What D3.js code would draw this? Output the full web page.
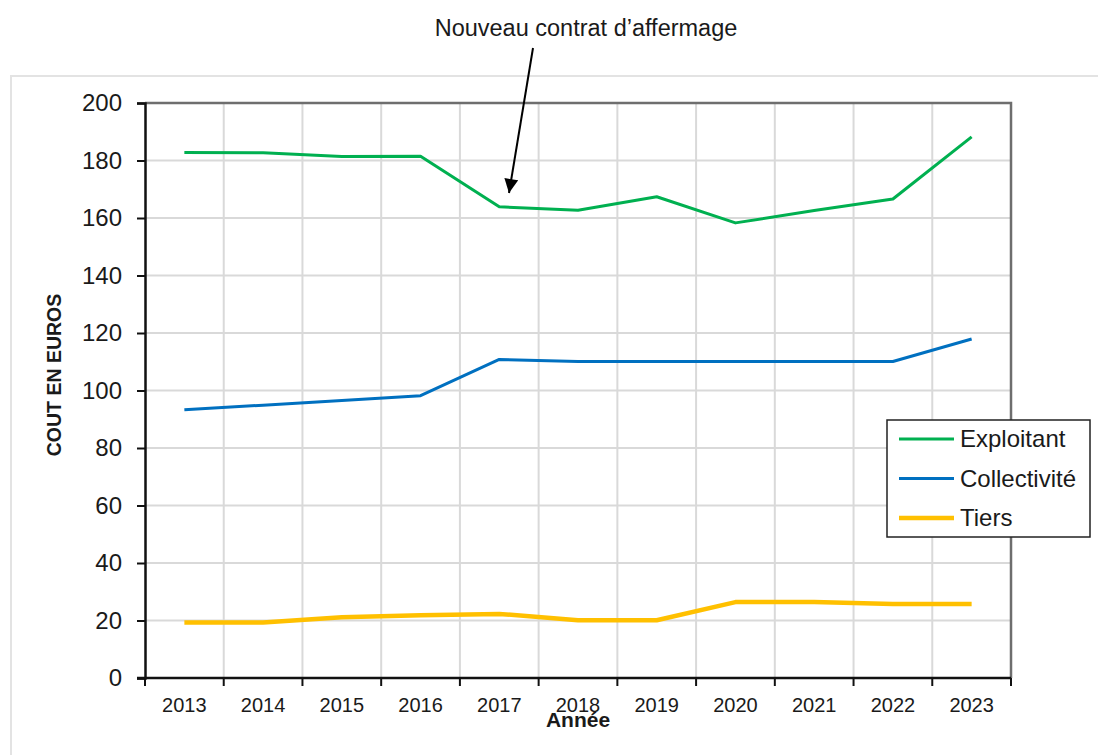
<!DOCTYPE html>
<html>
<head>
<meta charset="utf-8">
<script src="https://cdn.jsdelivr.net/npm/d3@7"></script>
<style>
  body { margin: 0; background: #fff; }
  text { font-family: "Liberation Sans", Arial, sans-serif; fill: #1a1a1a; }
</style>
</head>
<body>
<div id="chart"></div>
<script>
var years = ["2013","2014","2015","2016","2017","2018","2019","2020","2021","2022","2023"];
var exploitant = [182.8, 182.7, 181.4, 181.5, 163.9, 162.7, 167.4, 158.3, 162.6, 166.6, 188.2];
var collectivite = [93.3, 94.9, 96.5, 98.2, 110.8, 110.1, 110.1, 110.1, 110.1, 110.1, 117.9];
var tiers = [19.3, 19.3, 21.1, 21.8, 22.3, 20.1, 20.1, 26.4, 26.4, 25.7, 25.7];
var yTicks = [0, 20, 40, 60, 80, 100, 120, 140, 160, 180, 200];
var seriesNames = ["Exploitant", "Collectivité", "Tiers"];
var seriesColors = ["#00b050", "#0070c0", "#ffc000"];

var svg = d3.select("#chart")
  .append("svg")
  .attr("width", 1098)
  .attr("height", 755);

// outer frame
svg.append("rect")
  .attr("x", 11).attr("y", 76)
  .attr("width", 1100).attr("height", 720)
  .attr("fill", "none")
  .attr("stroke", "#e3e3e3")
  .attr("stroke-width", 2);

var pArea = [145, 103, 1011, 678];

var x = d3.scaleBand()
  .domain(years)
  .range([pArea[0], pArea[2]]);
var y = d3.scaleLinear()
  .domain([0, 200])
  .range([pArea[3], pArea[1]]);

var g = svg.append("g");

// grid
g.append("g")
  .selectAll("line.h")
  .data(yTicks.filter(function(d){ return d > 0 && d < 200; }))
  .enter().append("line")
  .attr("x1", pArea[0]).attr("x2", pArea[2])
  .attr("y1", function(d){ return y(d); })
  .attr("y2", function(d){ return y(d); })
  .attr("stroke", "#d9d9d9").attr("stroke-width", 2);

g.append("g")
  .selectAll("line.v")
  .data(years.slice(1))
  .enter().append("line")
  .attr("x1", function(d){ return x(d); })
  .attr("x2", function(d){ return x(d); })
  .attr("y1", pArea[1]).attr("y2", pArea[3])
  .attr("stroke", "#d9d9d9").attr("stroke-width", 2);

// top and right frame of plot
g.append("path")
  .attr("d", `M${pArea[0]},${pArea[1]}H${pArea[2]}V${pArea[3]}`)
  .attr("fill", "none")
  .attr("stroke", "#6e6e6e")
  .attr("stroke-width", 2.5);

// y axis
var yAxis = g.append("g")
  .attr("class", "axis axis--y")
  .attr("transform", `translate(${pArea[0]},0)`)
  .call(d3.axisLeft(y).tickValues(yTicks).tickSize(8).tickPadding(15));
yAxis.select(".domain").attr("stroke", "#111").attr("stroke-width", 2.5);
yAxis.selectAll(".tick line").attr("stroke", "#111").attr("stroke-width", 2);
yAxis.selectAll(".tick text")
  .attr("font-size", 24)
  .attr("font-family", "Liberation Sans, Arial, sans-serif")
  .attr("fill", "#1a1a1a");

// x axis: ticks at category boundaries
var xAxis = g.append("g")
  .attr("class", "axis axis--x")
  .attr("transform", `translate(0,${pArea[3]})`);
xAxis.append("line")
  .attr("x1", pArea[0] - 8).attr("x2", pArea[2])
  .attr("stroke", "#111").attr("stroke-width", 2.5);
xAxis.selectAll("line.tk")
  .data(years.concat(["end"]))
  .enter().append("line")
  .attr("x1", function(d, i){ return i < years.length ? x(d) : pArea[2]; })
  .attr("x2", function(d, i){ return i < years.length ? x(d) : pArea[2]; })
  .attr("y1", 0).attr("y2", 8)
  .attr("stroke", "#111").attr("stroke-width", 2);
xAxis.selectAll("text.lbl")
  .data(years)
  .enter().append("text")
  .attr("x", function(d){ return x(d) + x.bandwidth() / 2; })
  .attr("y", 34)
  .attr("text-anchor", "middle")
  .attr("font-size", 20)
  .text(function(d){ return d; });

// axis titles
svg.append("text")
  .attr("x", 578).attr("y", 727)
  .attr("text-anchor", "middle")
  .attr("font-size", 21)
  .attr("font-weight", "bold")
  .text("Année");

svg.append("text")
  .attr("transform", "translate(61,375) rotate(-90)")
  .attr("text-anchor", "middle")
  .attr("font-size", 19.5)
  .attr("font-weight", "bold")
  .text("COUT EN EUROS");

// lines
var line = d3.line()
  .x(function(d, i){ return x(years[i]) + x.bandwidth() / 2; })
  .y(function(d){ return y(d); });

[exploitant, collectivite, tiers].forEach(function(s, i){
  g.append("path")
    .datum(s)
    .attr("d", line)
    .attr("fill", "none")
    .attr("stroke", seriesColors[i])
    .attr("stroke-width", i === 2 ? 4.5 : 3)
    .attr("stroke-linejoin", "round");
});

// annotation
svg.append("defs").append("marker")
  .attr("id", "arr")
  .attr("viewBox", "0 0 10 10")
  .attr("refX", 10).attr("refY", 5)
  .attr("markerWidth", 17).attr("markerHeight", 14)
  .attr("markerUnits", "userSpaceOnUse")
  .attr("orient", "auto")
  .append("path")
  .attr("d", "M0,0L10,5L0,10Z")
  .attr("fill", "#000");

svg.append("text")
  .attr("x", 586).attr("y", 36)
  .attr("text-anchor", "middle")
  .attr("font-size", 23.5)
  .attr("fill", "#000")
  .text("Nouveau contrat d’affermage");

svg.append("line")
  .attr("x1", 533).attr("y1", 48)
  .attr("x2", 509).attr("y2", 193)
  .attr("stroke", "#000").attr("stroke-width", 2)
  .attr("marker-end", "url(#arr)");

// legend
var leg = svg.append("g").attr("transform", "translate(887,420)");
leg.append("rect")
  .attr("width", 203).attr("height", 117)
  .attr("fill", "#fff")
  .attr("stroke", "#222").attr("stroke-width", 1.5);
seriesNames.forEach(function(n, i){
  var yy = 19 + i * 39.5;
  leg.append("line")
    .attr("x1", 12).attr("x2", 67)
    .attr("y1", yy).attr("y2", yy)
    .attr("stroke", seriesColors[i])
    .attr("stroke-width", i === 2 ? 4.5 : 3);
  leg.append("text")
    .attr("x", 73).attr("y", yy + 8)
    .attr("font-size", 24)
    .text(n);
});
</script>
</body>
</html>
